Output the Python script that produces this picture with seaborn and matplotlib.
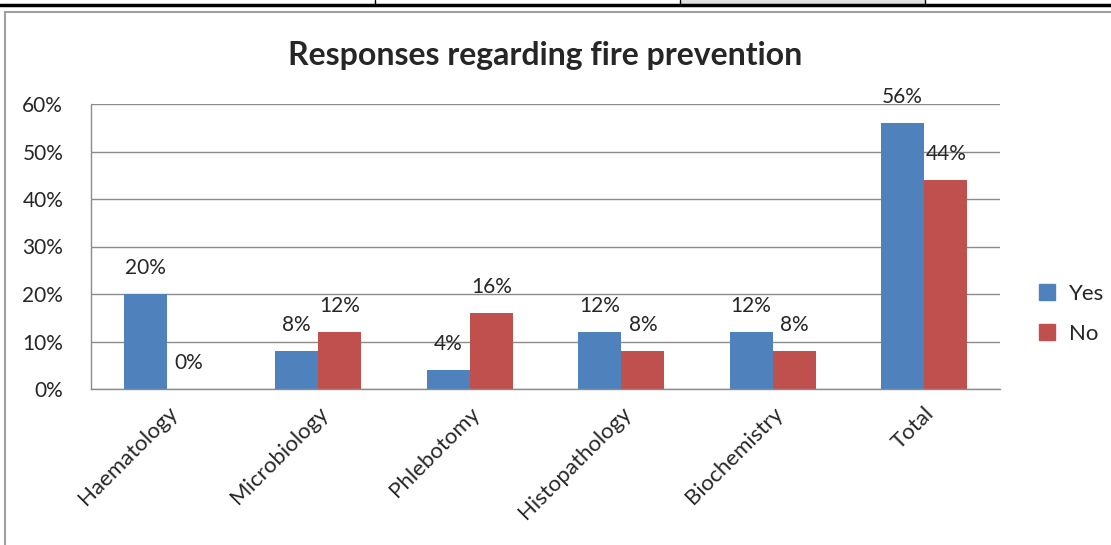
import pandas as pd
import matplotlib.pyplot as plt
import seaborn as sns
from matplotlib.lines import Line2D
from matplotlib.patches import Rectangle

# data
departments = ["Haematology", "Microbiology", "Phlebotomy", "Histopathology", "Biochemistry", "Total"]
yes_pct = [20, 8, 4, 12, 12, 56]
no_pct = [0, 12, 16, 8, 8, 44]

df = pd.DataFrame({
    "Department": departments * 2,
    "Answer": ["Yes"] * len(departments) + ["No"] * len(departments),
    "Percent": yes_pct + no_pct,
})

sns.set_style("white")
plt.rcParams["font.family"] = ["Lato", "DejaVu Sans"]
fs = 15

fig = plt.figure(figsize=(11.11, 5.45), dpi=100)
ax = fig.add_axes([91 / 1111, 1 - 389 / 545, 909 / 1111, 285 / 545])

palette = {"Yes": "#4F81BD", "No": "#C0504D"}
sns.barplot(data=df, x="Department", y="Percent", hue="Answer", palette=palette,
            width=0.57, saturation=1, linewidth=0, ax=ax, legend=False)

ax.set_ylim(0, 60)
ax.set_yticks(range(0, 61, 10))
ax.set_yticklabels([f"{v}%" for v in range(0, 61, 10)], fontsize=fs)
ax.yaxis.grid(True, color="#8c8c8c", linewidth=1)
ax.set_axisbelow(True)
ax.set_xlabel("")
ax.set_ylabel("")
ax.set_xticks(range(len(departments)))
ax.set_xticklabels(departments, rotation=45, ha="right", rotation_mode="anchor", fontsize=fs + 1)
ax.tick_params(axis="x", pad=10, length=0)
ax.tick_params(axis="y", pad=20, length=0)
for s in ["top", "right"]:
    ax.spines[s].set_visible(False)
for s in ["left", "bottom"]:
    ax.spines[s].set_color("#8c8c8c")
    ax.spines[s].set_linewidth(1)

# value labels
for cont in ax.containers:
    for bar in cont:
        h = bar.get_height()
        ax.annotate(f"{h:.0f}%", (bar.get_x() + bar.get_width() / 2, h),
                    xytext=(0, 19), textcoords="offset points",
                    ha="center", va="center", fontsize=fs)

ax.set_title("Responses regarding fire prevention", fontsize=23, fontweight="bold", pad=28)

handles = [Line2D([], [], marker="s", linestyle="", markersize=11, color=palette[k]) for k in ["Yes", "No"]]
fig.legend(handles, ["Yes", "No"], loc="center left", bbox_to_anchor=(1005 / 1111, 1 - 314 / 545),
           frameon=False, fontsize=fs + 1, handletextpad=0.0, labelspacing=0.9)

# frame of the surrounding document
fig.add_artist(Rectangle((5 / 1111, -0.1), 1.2, 1 - 12 / 545 + 0.1, transform=fig.transFigure,
                         fill=False, edgecolor="#a0a0a0", linewidth=1.5))
fig.add_artist(Rectangle((680 / 1111, 1 - 5 / 545), 245 / 1111, 5 / 545, transform=fig.transFigure,
                         facecolor="#e0e0e0", edgecolor="none"))
fig.add_artist(Line2D([0, 1], [1 - 5 / 545, 1 - 5 / 545], transform=fig.transFigure, color="black", linewidth=2.5))
for xv in [375, 680, 925]:
    fig.add_artist(Line2D([xv / 1111, xv / 1111], [1 - 5 / 545, 1], transform=fig.transFigure, color="black", linewidth=1))

fig.savefig("out.png", dpi=100)
